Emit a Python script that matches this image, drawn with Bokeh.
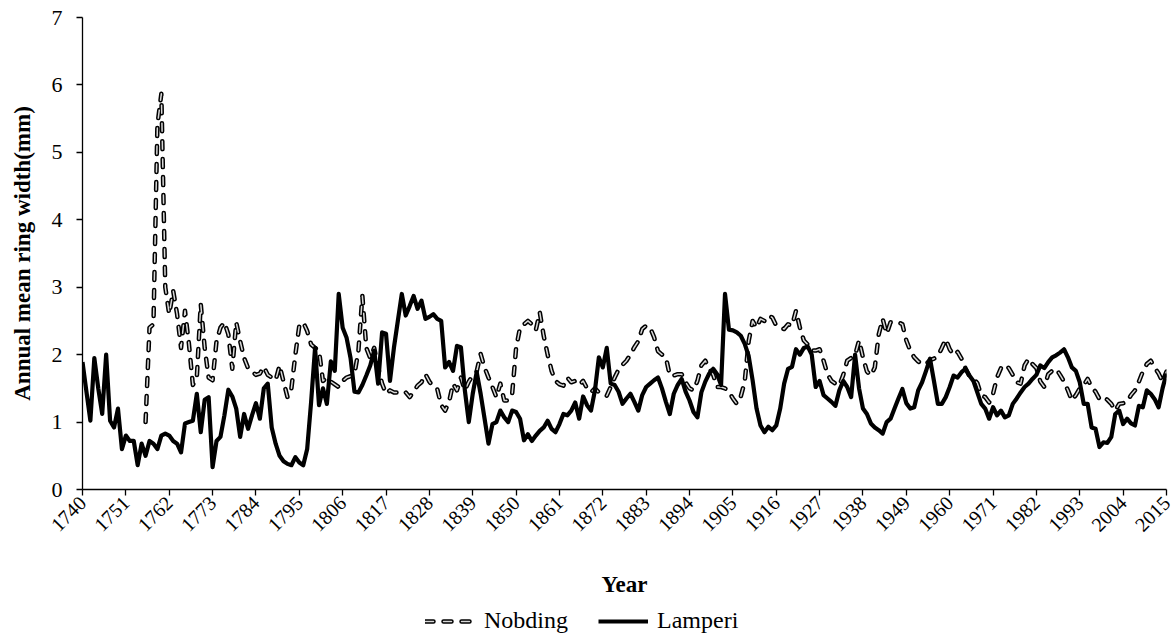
import math
import numpy as np
from bokeh.plotting import figure
from bokeh.layouts import column
from bokeh.models import Range1d, FixedTicker, Legend, LegendItem
from bokeh.embed import file_html
from bokeh.resources import INLINE

# Annual mean ring width (mm), one value per year
lamperi_years = list(range(1740, 2016))
lamperi = [
    1.89, 1.45, 1.02, 1.95, 1.50, 1.12, 2.00, 1.02, 0.92, 1.20,
    0.60, 0.80, 0.72, 0.72, 0.36, 0.68, 0.50, 0.72, 0.68, 0.60,
    0.80, 0.83, 0.80, 0.72, 0.68, 0.55, 0.98, 1.00, 1.02, 1.42,
    0.85, 1.33, 1.37, 0.33, 0.72, 0.78, 1.10, 1.48, 1.38, 1.20,
    0.78, 1.12, 0.90, 1.10, 1.28, 1.05, 1.50, 1.57, 0.92, 0.68,
    0.50, 0.42, 0.38, 0.36, 0.48, 0.40, 0.36, 0.60, 1.30, 2.10,
    1.25, 1.50, 1.27, 1.90, 1.76, 2.90, 2.40, 2.25, 1.95, 1.45,
    1.44, 1.55, 1.69, 1.84, 2.06, 1.57, 2.33, 2.31, 1.61, 2.10,
    2.50, 2.90, 2.58, 2.72, 2.87, 2.68, 2.80, 2.53, 2.56, 2.60,
    2.53, 2.50, 1.81, 1.89, 1.76, 2.13, 2.11, 1.47, 1.00, 1.42,
    1.74, 1.42, 1.05, 0.68, 0.97, 1.00, 1.17, 1.07, 1.00, 1.17,
    1.15, 1.05, 0.73, 0.82, 0.72, 0.80, 0.87, 0.92, 1.02, 0.90,
    0.85, 0.97, 1.12, 1.10, 1.17, 1.29, 1.05, 1.38, 1.25, 1.17,
    1.47, 1.96, 1.81, 2.10, 1.57, 1.55, 1.45, 1.27, 1.35, 1.42,
    1.30, 1.17, 1.40, 1.52, 1.57, 1.62, 1.66, 1.50, 1.30, 1.12,
    1.42, 1.55, 1.64, 1.45, 1.32, 1.15, 1.07, 1.44, 1.60, 1.72,
    1.79, 1.71, 1.55, 2.90, 2.37, 2.36, 2.33, 2.28, 2.16, 1.98,
    1.62, 1.20, 0.95, 0.85, 0.93, 0.88, 0.95, 1.20, 1.57, 1.79,
    1.82, 2.08, 2.00, 2.10, 2.12, 2.00, 1.52, 1.61, 1.40, 1.35,
    1.30, 1.24, 1.47, 1.61, 1.52, 1.37, 2.00, 1.50, 1.20, 1.12,
    0.98, 0.92, 0.88, 0.83, 1.00, 1.05, 1.20, 1.35, 1.49, 1.28,
    1.20, 1.22, 1.47, 1.59, 1.76, 1.94, 1.61, 1.27, 1.27, 1.37,
    1.52, 1.69, 1.66, 1.74, 1.79, 1.69, 1.61, 1.44, 1.27, 1.20,
    1.05, 1.22, 1.10, 1.17, 1.07, 1.10, 1.27, 1.35, 1.44, 1.52,
    1.57, 1.64, 1.70, 1.84, 1.80, 1.89, 1.96, 1.99, 2.03, 2.08,
    1.96, 1.81, 1.76, 1.59, 1.27, 1.27, 0.92, 0.90, 0.63, 0.70,
    0.69, 0.78, 1.12, 1.17, 0.97, 1.05, 0.98, 0.95, 1.24, 1.22,
    1.47, 1.42, 1.34, 1.22, 1.50, 1.72,
]

nobding_years = list(range(1756, 2016))
nobding = [
    1.00, 2.40, 2.45, 5.40,
    5.87, 3.00, 2.60, 2.95, 2.60, 2.10, 2.65, 2.16, 1.55, 1.66,
    2.75, 2.10, 1.66, 1.62, 2.20, 2.40, 2.48, 2.30, 1.79, 2.48,
    2.20, 1.95, 1.80, 1.75, 1.70, 1.72, 1.82, 1.70, 1.66, 1.62,
    1.84, 1.60, 1.37, 1.50, 2.00, 2.43, 2.48, 2.35, 2.15, 2.10,
    2.06, 1.61, 1.66, 1.60, 1.56, 1.52, 1.61, 1.66, 1.68, 1.71,
    2.06, 2.87, 2.10, 1.95, 2.10, 1.81, 1.57, 1.42, 1.47, 1.44,
    1.44, 1.42, 1.44, 1.37, 1.45, 1.54, 1.59, 1.71, 1.60, 1.52,
    1.49, 1.25, 1.17, 1.30, 1.57, 1.47, 1.66, 1.47, 1.60, 1.69,
    1.75, 2.01, 1.81, 1.66, 1.52, 1.37, 1.57, 1.32, 1.32, 1.42,
    2.10, 2.40, 2.45, 2.50, 2.45, 2.36, 2.63, 2.28, 2.00, 1.76,
    1.61, 1.56, 1.54, 1.66, 1.59, 1.61, 1.55, 1.61, 1.50, 1.44,
    1.50, 1.44, 1.42, 1.39, 1.52, 1.66, 1.78, 1.85, 1.91, 2.00,
    2.11, 2.20, 2.38, 2.43, 2.40, 2.26, 2.05, 2.00, 1.96, 1.69,
    1.69, 1.71, 1.71, 1.59, 1.50, 1.47, 1.61, 1.84, 1.91, 1.79,
    1.70, 1.52, 1.52, 1.50, 1.45, 1.35, 1.27, 1.38, 1.60, 2.20,
    2.50, 2.40, 2.53, 2.50, 2.58, 2.55, 2.43, 2.40, 2.38, 2.45,
    2.43, 2.65, 2.40, 2.21, 2.15, 2.06, 2.06, 2.08, 1.91, 1.71,
    1.61, 1.57, 1.54, 1.70, 1.91, 1.95, 1.99, 2.21, 1.96, 1.75,
    1.69, 1.81, 2.30, 2.53, 2.31, 2.48, 2.48, 2.48, 2.45, 2.21,
    2.06, 1.96, 1.90, 1.86, 1.86, 1.92, 1.94, 1.98, 2.10, 2.23,
    2.08, 1.99, 2.04, 1.94, 1.80, 1.68, 1.64, 1.58, 1.40, 1.37,
    1.29, 1.42, 1.66, 1.80, 1.85, 1.80, 1.70, 1.59, 1.57, 1.84,
    1.94, 1.86, 1.80, 1.60, 1.52, 1.71, 1.76, 1.79, 1.70, 1.60,
    1.47, 1.32, 1.40, 1.50, 1.55, 1.64, 1.52, 1.45, 1.34, 1.37,
    1.33, 1.27, 1.17, 1.27, 1.28, 1.30, 1.40, 1.47, 1.60, 1.75,
    1.86, 1.91, 1.81, 1.72, 1.60, 1.75,
]

# Every 11th year is labelled on the category axis
tick_years = lamperi_years[::11]
y_ticks = [0, 1, 2, 3, 4, 5, 6, 7]

FONT = "Liberation Serif"

NOB_STYLE = dict(line_color="black", line_width=4.5, line_dash="8 10",
                 line_cap="round", line_join="round")
NOB_CORE = dict(line_color="#d8d8d8", line_width=1.5, line_dash="8 10",
                line_cap="round", line_join="round")
LAM_STYLE = dict(line_color="black", line_width=4.2, line_join="round")

LEGEND_H = 30
LEFT = 82

p = figure(
    width=1174, height=635 - LEGEND_H,
    output_backend="svg", toolbar_location=None,
    x_range=Range1d(lamperi_years[0], lamperi_years[-1]),
    y_range=Range1d(y_ticks[0], y_ticks[-1]),
    min_border_left=LEFT, min_border_right=8,
    min_border_top=17, min_border_bottom=635 - LEGEND_H - 489,
)
p.outline_line_color = None
p.xgrid.visible = False
p.ygrid.visible = False

for ax in (p.xaxis, p.yaxis):
    ax.axis_line_color = "black"
    ax.axis_line_width = 1.3
    ax.major_tick_line_color = "black"
    ax.major_tick_line_width = 1.3
    ax.major_tick_in = 0
    ax.major_tick_out = 6
    ax.minor_tick_line_color = None
    ax.major_label_text_font = FONT
    ax.major_label_text_color = "black"
    ax.axis_label_text_font = FONT
    ax.axis_label_text_font_style = "bold"
    ax.axis_label_text_color = "black"
    ax.axis_label_text_font_size = "23px"

p.xaxis.ticker = FixedTicker(ticks=tick_years)
p.xaxis.major_label_orientation = math.pi / 4
p.xaxis.major_label_text_font_size = "20px"
p.xaxis.major_label_standoff = 4
p.xaxis.axis_label = "Year"
p.xaxis.axis_label_standoff = 31

p.yaxis.ticker = FixedTicker(ticks=y_ticks)
p.yaxis.major_label_text_font_size = "22px"
p.yaxis.major_label_standoff = 14
p.yaxis.axis_label = "Annual mean ring width(mm)"
p.yaxis.axis_label_standoff = 14

# Nobding: dashed line with a light core inside each dash
p.line(nobding_years, nobding, **NOB_STYLE)
p.line(nobding_years, nobding, **NOB_CORE)
# Lamperi: thick solid line
p.line(lamperi_years, lamperi, **LAM_STYLE)

# Legend strip under the chart; its sample renderers hold no drawable data
leg = figure(width=1174, height=LEGEND_H, output_backend="svg",
             toolbar_location=None, x_axis_type=None, y_axis_type=None,
             min_border=0, outline_line_color=None,
             x_range=Range1d(0, 1), y_range=Range1d(0, 1))
leg.xgrid.visible = False
leg.ygrid.visible = False
blank = np.array([np.nan])
s_outer = leg.line(blank, blank, **NOB_STYLE)
s_inner = leg.line(blank, blank, **NOB_CORE)
s_lam = leg.line(blank, blank, **LAM_STYLE)

legend = Legend(
    items=[LegendItem(label="Nobding", renderers=[s_outer, s_inner]),
           LegendItem(label="Lamperi", renderers=[s_lam])],
    orientation="horizontal",
    location=(425 - LEFT, 1),
    label_text_font=FONT,
    label_text_font_size="24px",
    label_text_color="black",
    glyph_width=50, glyph_height=24, label_height=24,
    label_standoff=9, spacing=30, padding=0, margin=0,
    border_line_color=None, background_fill_alpha=0,
)
leg.add_layout(legend)

layout = column(p, leg, spacing=0)
open("out.html", "w").write(file_html(layout, INLINE))
